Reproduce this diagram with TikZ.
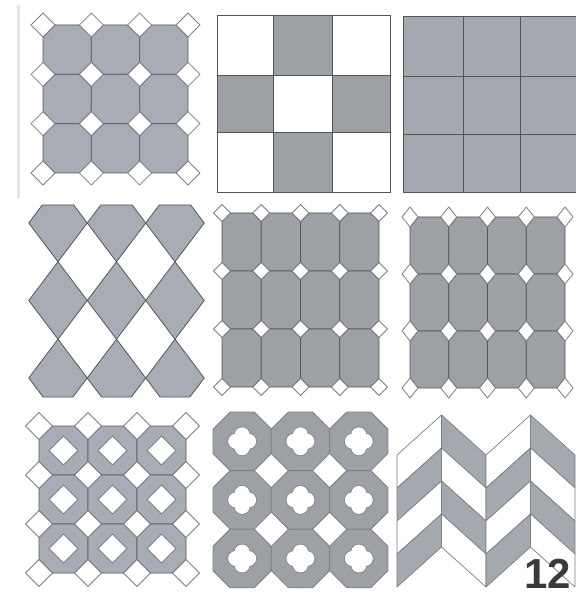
\documentclass[tikz,border=0pt]{standalone}
\usepackage{fontspec}
\newfontfamily\lblfont{Liberation Sans}
\definecolor{tileA}{RGB}{168,173,181}
\definecolor{tileB}{RGB}{157,160,165}
\definecolor{tileC}{RGB}{164,169,176}
\definecolor{edgeD}{RGB}{82,85,90}
\definecolor{edgeL}{RGB}{125,127,131}
\definecolor{numc}{RGB}{58,58,58}
\tikzset{
  octtile/.style={draw=edgeD,line width=0.8,line join=round},
  gaptile/.style={fill=white,draw=edgeL,line width=0.8,line join=round},
  sqtile/.style={draw=edgeD,line width=0.8},
  chevtile/.style={draw=edgeL,line width=0.7,line join=round},
  holeedge/.style={draw=edgeL,line width=1.4},
}
% octagon grid with diamonds at the vertices
\newcommand\octpanel[9]{%
  \foreach \ii in {1,...,#5}{\foreach \jj in {1,...,#6}{%
    \pgfmathsetmacro\xa{#1+(\ii-1)*#3}\pgfmathsetmacro\xb{\xa+#3}%
    \pgfmathsetmacro\ya{#2+(\jj-1)*#4}\pgfmathsetmacro\yb{\ya+#4}%
    \filldraw[octtile,fill=#9] (\xa+#7,\ya) -- (\xb-#7,\ya) -- (\xb,\ya+#8) -- (\xb,\yb-#8)
      -- (\xb-#7,\yb) -- (\xa+#7,\yb) -- (\xa,\yb-#8) -- (\xa,\ya+#8) -- cycle;}}%
  \foreach \ii in {0,...,#5}{\foreach \jj in {0,...,#6}{%
    \pgfmathsetmacro\xa{#1+\ii*#3}\pgfmathsetmacro\ya{#2+\jj*#4}%
    \filldraw[gaptile] (\xa,\ya-#8) -- (\xa+#7,\ya) -- (\xa,\ya+#8) -- (\xa-#7,\ya) -- cycle;}}%
}
\begin{document}
\begin{tikzpicture}[x=1pt,y=-1pt]
\useasboundingbox[fill=white] (0,0) rectangle (575,593);
% scan edge
\fill[black!10] (17,5) rectangle (20,198);

% ---------- panel 1: octagons with square insets ----------
\octpanel{43}{25}{48.33}{49.33}{3}{3}{12}{12}{tileA}

% ---------- panel 2: cross checker ----------
\foreach \ii/\xa/\xb in {0/217/273,1/273/332,2/332/390}{
  \foreach \jj/\ya/\yb in {0/15/75,1/75/132,2/132/192}{
    \pgfmathtruncatemacro\parity{mod(\ii+\jj,2)}
    \ifnum\parity=1 \filldraw[sqtile,fill=tileB] (\xa,\ya) rectangle (\xb,\yb);
    \else \filldraw[sqtile,fill=white] (\xa,\ya) rectangle (\xb,\yb); \fi}}

% ---------- panel 3: plain square grid ----------
\fill[tileC] (403,17) rectangle (577,193);
\foreach \xa in {403,463,520}{\draw[sqtile,line width=1] (\xa,17) -- (\xa,193);}
\foreach \ya in {17,77,135,193}{\draw[sqtile,line width=1] (403,\ya) -- (577,\ya);}

% ---------- panel 4: diamonds (harlequin) ----------
\foreach \cx in {58,116.5,175}{
  \filldraw[octtile,fill=tileA] (\cx-29.25,223) -- (\cx-15.7,205) -- (\cx+15.7,205)
    -- (\cx+29.25,223) -- (\cx,261.75) -- cycle;
  \filldraw[octtile,fill=tileA] (\cx-29.25,300.5) -- (\cx,261.75) -- (\cx+29.25,300.5)
    -- (\cx,339.25) -- cycle;
  \filldraw[octtile,fill=tileA] (\cx-29.25,378) -- (\cx,339.25) -- (\cx+29.25,378)
    -- (\cx+14.9,397) -- (\cx-14.9,397) -- cycle;
}

% ---------- panel 5 ----------
\octpanel{222}{213}{39.25}{58}{4}{3}{8.5}{8.5}{tileB}

% ---------- panel 6 ----------
\octpanel{410}{217}{38.75}{57}{4}{3}{8}{10}{tileB}

% ---------- panel 7: octagons with diamond holes ----------
\octpanel{39}{426}{49}{49}{3}{3}{13.5}{13.5}{tileA}
\foreach \ii in {0,1,2}{\foreach \jj in {0,1,2}{
  \pgfmathsetmacro\cx{63.5+49*\ii}\pgfmathsetmacro\cy{450.5+49*\jj}
  \filldraw[gaptile] (\cx,\cy-14.5) -- (\cx+14.5,\cy) -- (\cx,\cy+14.5) -- (\cx-14.5,\cy) -- cycle;}}

% ---------- panel 8: regular octagons with quatrefoil holes ----------
\foreach \ii in {0,1,2}{\foreach \jj in {0,1,2}{
  \pgfmathsetmacro\xa{213+58.3*\ii}\pgfmathsetmacro\xb{\xa+58.3}
  \pgfmathsetmacro\ya{412+58.6*\jj}\pgfmathsetmacro\yb{\ya+58.6}
  \pgfmathsetmacro\cx{\xa+29.15}\pgfmathsetmacro\cy{\ya+29.3}
  \filldraw[draw=edgeL,line width=0.8,line join=round,fill=tileB]
    (\xa+17.1,\ya) -- (\xb-17.1,\ya) -- (\xb,\ya+17.1) -- (\xb,\yb-17.1)
    -- (\xb-17.1,\yb) -- (\xa+17.1,\yb) -- (\xa,\yb-17.1) -- (\xa,\ya+17.1) -- cycle;
  \draw[holeedge] (\cx+6.5,\cy) circle (7.5) (\cx-6.5,\cy) circle (7.5)
    (\cx,\cy+6.5) circle (7.5) (\cx,\cy-6.5) circle (7.5);
  \fill[white] (\cx+6.5,\cy) circle (7.5) (\cx-6.5,\cy) circle (7.5)
    (\cx,\cy+6.5) circle (7.5) (\cx,\cy-6.5) circle (7.5);
}}

% ---------- panel 9: herringbone chevrons ----------
\foreach \c in {0,1,2,3}{
  \pgfmathsetmacro\xl{397+44.5*\c}\pgfmathsetmacro\xr{\xl+44.5}
  \pgfmathtruncatemacro\odd{mod(\c,2)}
  \ifnum\odd=0 \def\tl{455}\def\tr{415}\else \def\tl{415}\def\tr{455}\fi
  \foreach \k in {0,1,2,3}{
    \pgfmathtruncatemacro\sh{mod(\k+\odd,2)}
    \ifnum\sh=1 \def\fc{tileC}\else \def\fc{white}\fi
    \filldraw[chevtile,fill=\fc] (\xl,\tl+33*\k) -- (\xr,\tr+33*\k) -- (\xr,\tr+33*\k+33)
      -- (\xl,\tl+33*\k+33) -- cycle;
  }
}

% ---------- plate number ----------
\node[anchor=south east,inner sep=0,text=numc,font=\lblfont\bfseries\fontsize{42}{42}\selectfont] (platenum) at (571,589) {12};
\end{tikzpicture}
\end{document}
